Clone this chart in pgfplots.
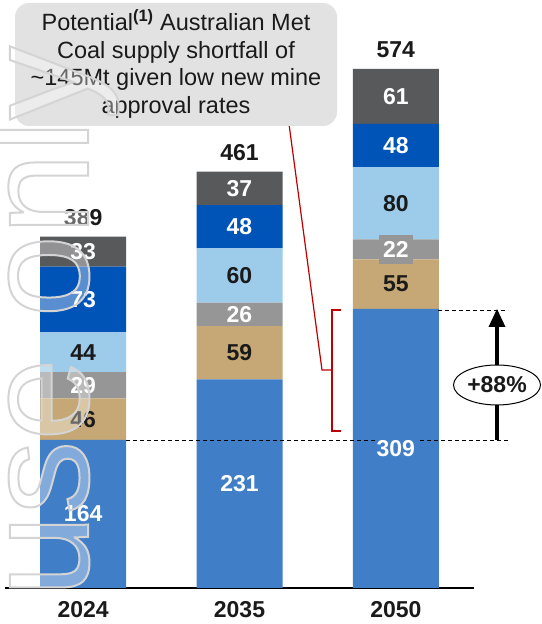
\documentclass[border=0pt]{standalone}
\usepackage{pgfplots}
\pgfplotsset{compat=1.18}
\usepackage{fontspec}
\setmainfont{Liberation Sans}
\usetikzlibrary{shapes.geometric}
\definecolor{cMid}{RGB}{64,126,200}
\definecolor{cTan}{RGB}{197,168,117}
\definecolor{cGry}{RGB}{150,150,150}
\definecolor{cLbl}{RGB}{157,203,234}
\definecolor{cDbl}{RGB}{0,84,184}
\definecolor{cDgr}{RGB}{88,89,91}
\definecolor{txt}{RGB}{26,26,26}
\definecolor{cRed}{RGB}{192,0,0}
\definecolor{cBox}{RGB}{226,226,226}
\definecolor{cWm}{RGB}{212,212,212}

\begin{document}
\begin{tikzpicture}
\useasboundingbox (0,0) rectangle (541pt,624pt);
\pgfplotsset{
  base/.style={
    at={(5pt,36pt)}, anchor=south west,
    scale only axis, width=469pt, height=586.95pt,
    xmin=-0.5, xmax=2.5, ymin=0, ymax=650,
  }
}
% ---------- bars ----------
\begin{axis}[base, ybar stacked, bar width=86pt,
  axis x line*=bottom, axis y line=none,
  axis line style={black, line width=1.5pt},
  xtick={0,1,2}, xticklabels={2024,2035,2050},
  major tick length=0pt, ytick=\empty,
  xticklabel style={font=\fontsize{23}{23}\selectfont\bfseries, text=txt, anchor=center, yshift=-22pt},
]
\addplot[fill=cMid, draw=none] coordinates {(0,164) (1,231) (2,309)};
\addplot[fill=cTan, draw=none] coordinates {(0,46) (1,59) (2,55)};
\addplot[fill=cGry, draw=none] coordinates {(0,29) (1,26) (2,22)};
\addplot[fill=cLbl, draw=none] coordinates {(0,44) (1,60) (2,80)};
\addplot[fill=cDbl, draw=none] coordinates {(0,73) (1,48) (2,48)};
\addplot[fill=cDgr, draw=none] coordinates {(0,33) (1,37) (2,61)};
\end{axis}
% ---------- annotations (pixel coordinates) ----------
\begin{scope}[shift={(0pt,624pt)}, x=1pt, y=-1pt]
\draw[line width=0.9pt, dash pattern=on 4pt off 3pt] (126,440) -- (508,440);
\draw[line width=0.9pt, dash pattern=on 4pt off 3pt] (438,310) -- (508,310);
\draw[line width=4pt] (497,440) -- (497,325);
\fill (497,309) -- (488.5,327) -- (505.5,327) -- cycle;
\node[ellipse, draw, line width=1pt, fill=white, minimum width=87pt, minimum height=40pt, inner sep=0, text=txt]
  at (497,385) {\fontsize{23}{23}\selectfont\bfseries +88\%};
\draw[cRed, line width=1.2pt] (341,310) -- (332,310) -- (332,431) -- (341,431);
\draw[cRed, line width=1.2pt] (332,370) -- (322,370) -- (289,124);
\fill[cBox, rounded corners=14pt] (15,3) rectangle (337,126);
\node[align=center, text=txt, inner sep=0,
  font=\fontsize{23.5}{27.5}\selectfont] at (176,64)
  {Potential\textsuperscript{\textbf{(1)}} Australian Met\\Coal supply shortfall of\\\textasciitilde145Mt given low new mine\\approval rates};
\end{scope}
% ---------- value labels ----------
\begin{axis}[base, hide axis, clip=false,
  nodes near coords, point meta=explicit symbolic,
  every node near coord/.append style={anchor=center, inner sep=0pt,
    font=\fontsize{23}{23}\selectfont\bfseries},
]
\addplot[draw=none, mark=none, every node near coord/.append style={text=white, fill=cMid, inner sep=1.5pt}]
  table[meta=l] {
x y l
0 82 164
1 115.5 231
2 154.5 309
};
\addplot[draw=none, mark=none, every node near coord/.append style={text=txt}]
  table[meta=l] {
x y l
0 187 46
1 260.5 59
2 336.5 55
0 261 44
1 346 60
2 426 80
0 410 389
1 482 461
2 596 574
};
\addplot[draw=none, mark=none, every node near coord/.append style={text=white}]
  table[meta=l] {
x y l
0 224.5 29
1 303 26
0 319.5 73
1 400 48
2 490 48
0 372.5 33
1 442.5 37
2 544.5 61
};
\addplot[draw=none, mark=none, every node near coord/.append style={text=white, fill=cGry, inner xsep=4.5pt, inner ysep=6.5pt}]
  table[meta=l] {
x y l
2 375 22
};
\end{axis}
% ---------- watermark ----------
\begin{scope}[shift={(0pt,624pt)}, x=1pt, y=-1pt]
\node[rotate=90, anchor=base west, inner sep=0, text=white, text opacity=0.35]
  at (88,598) {\fontsize{148}{148}\selectfont use only};
\begin{scope}[draw=cWm, line width=2pt]
\node[rotate=90, anchor=base west, inner sep=0, text=cWm]
  at (88,598) {\special{pdf:literal 1 Tr}\fontsize{148}{148}\selectfont use only};
\end{scope}
\end{scope}
\end{tikzpicture}
\end{document}
